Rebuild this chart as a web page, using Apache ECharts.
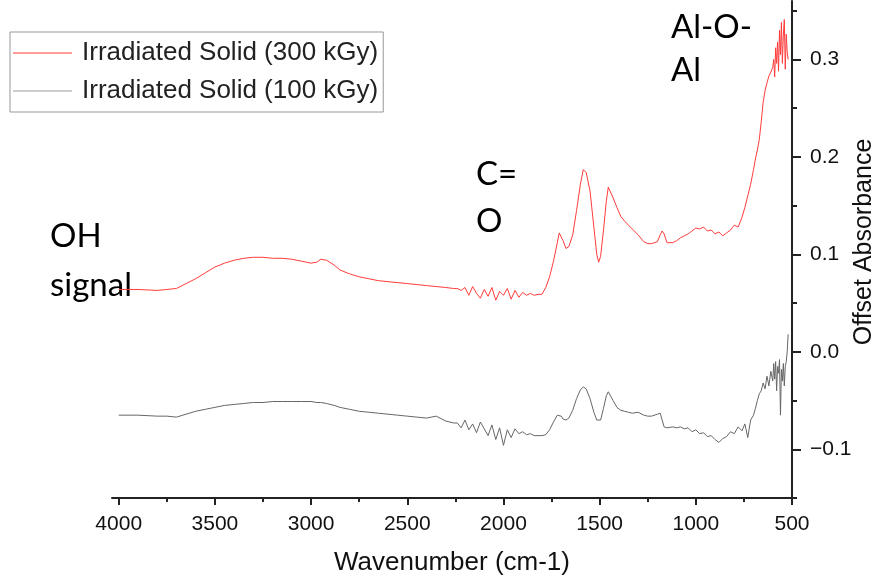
<!DOCTYPE html>
<html>
<head>
<meta charset="utf-8">
<script src="https://cdn.jsdelivr.net/npm/echarts@6/dist/echarts.min.js"></script>
<style>
  html, body { margin: 0; padding: 0; background: #fff; }
  #main { width: 885px; height: 584px; }
</style>
</head>
<body>
<div id="main"></div>
<script>
// wavenumber (cm-1), shared by both spectra
const wavenumber = [
  4000, 3900, 3800, 3750, 3700, 3650, 3600, 3550, 3500, 3450, 3400, 3350, 3300, 3250, 3200, 3150, 3100, 3050,
  3000, 2970, 2950, 2920, 2880, 2850, 2800, 2750, 2700, 2650, 2600, 2550, 2500, 2450, 2400, 2350, 2300, 2260,
  2240, 2220, 2200, 2180, 2160, 2140, 2120, 2100, 2080, 2060, 2040, 2020, 2000, 1980, 1960, 1940, 1920, 1900,
  1880, 1860, 1840, 1820,
  1800, 1780, 1760, 1740, 1720, 1710, 1700, 1690, 1675, 1660, 1640, 1620, 1600, 1585, 1570, 1550, 1530, 1515,
  1505, 1495, 1480, 1465, 1455, 1445, 1430, 1410, 1390, 1370, 1350, 1330, 1300, 1270, 1250, 1230, 1200, 1185,
  1175, 1165, 1150, 1140, 1120, 1100,
  1080, 1060, 1040, 1020, 1000, 980, 960, 940, 920, 900, 880, 860, 840, 820, 800, 780, 760, 745, 730, 715, 700,
  690, 680, 670, 660, 650, 640, 630, 620, 610,
  600, 595, 590, 585, 580, 575, 570, 565, 560, 555, 550, 545, 540, 535, 530, 525, 520
];

// Irradiated Solid (300 kGy)
const solid300 = [
  0.064, 0.064, 0.063, 0.064, 0.065, 0.070, 0.075, 0.081, 0.087, 0.091, 0.094, 0.096, 0.097, 0.097, 0.096, 0.096, 0.095, 0.093,
  0.091, 0.092, 0.095, 0.094, 0.089, 0.084, 0.080, 0.077, 0.075, 0.073, 0.072, 0.071, 0.070, 0.069, 0.068, 0.067, 0.066, 0.065,
  0.065, 0.063, 0.066, 0.058, 0.067, 0.060, 0.055, 0.064, 0.057, 0.066, 0.053, 0.062, 0.058, 0.065, 0.054, 0.063, 0.056, 0.061,
  0.058, 0.060, 0.058, 0.059,
  0.059, 0.066, 0.077, 0.093, 0.112, 0.122, 0.121, 0.114, 0.106, 0.108, 0.120, 0.145, 0.172, 0.187, 0.184, 0.165, 0.128, 0.100,
  0.092, 0.098, 0.125, 0.155, 0.169, 0.167, 0.158, 0.148, 0.139, 0.134, 0.130, 0.126, 0.120, 0.113, 0.111, 0.111, 0.113, 0.120,
  0.124, 0.121, 0.112, 0.110, 0.112, 0.114,
  0.117, 0.119, 0.121, 0.124, 0.127, 0.126, 0.128, 0.124, 0.125, 0.121, 0.123, 0.119, 0.122, 0.125, 0.130, 0.128, 0.138, 0.148, 0.160, 0.172, 0.187,
  0.198, 0.207, 0.218, 0.236, 0.256, 0.268, 0.276, 0.283, 0.287,
  0.292, 0.300, 0.282, 0.312, 0.296, 0.318, 0.288, 0.330, 0.305, 0.338, 0.296, 0.325, 0.341, 0.290, 0.326, 0.308, 0.300
];

// Irradiated Solid (100 kGy)
const solid100 = [
  -0.065, -0.065, -0.066, -0.066, -0.067, -0.064, -0.061, -0.059, -0.057, -0.055, -0.054, -0.053, -0.052, -0.052, -0.051, -0.051, -0.051, -0.051,
  -0.051, -0.052, -0.052, -0.053, -0.055, -0.057, -0.059, -0.061, -0.062, -0.063, -0.064, -0.065, -0.066, -0.067, -0.068, -0.066, -0.071, -0.073,
  -0.073, -0.078, -0.070, -0.080, -0.074, -0.083, -0.072, -0.079, -0.086, -0.075, -0.090, -0.078, -0.096, -0.080, -0.088, -0.079, -0.084, -0.082,
  -0.085, -0.084, -0.086, -0.086,
  -0.086, -0.085, -0.080, -0.072, -0.065, -0.064, -0.066, -0.069, -0.070, -0.068, -0.060, -0.048, -0.039, -0.036, -0.038, -0.048, -0.062, -0.070,
  -0.072, -0.070, -0.058, -0.045, -0.041, -0.043, -0.050, -0.057, -0.060, -0.061, -0.062, -0.063, -0.062, -0.065, -0.066, -0.066, -0.064, -0.063,
  -0.070, -0.077, -0.078, -0.079, -0.077, -0.078,
  -0.077, -0.079, -0.078, -0.082, -0.080, -0.084, -0.083, -0.087, -0.086, -0.090, -0.093, -0.089, -0.087, -0.082, -0.084, -0.077, -0.081, -0.074, -0.088, -0.070, -0.065,
  -0.058, -0.050, -0.043, -0.040, -0.032, -0.038, -0.025, -0.035, -0.020,
  -0.030, -0.012, -0.028, -0.010, -0.040, -0.015, -0.022, -0.008, -0.065, -0.018, -0.030, -0.012, -0.035, -0.015, -0.010, 0.000, 0.018
];

const xMajor = [500, 1000, 1500, 2000, 2500, 3000, 3500, 4000];
const xMinor = [750, 1250, 1750, 2250, 2750, 3250, 3750];
const yMajor = [-0.1, 0, 0.1, 0.2, 0.3];
const yMinor = [-0.15, -0.05, 0.05, 0.15, 0.25, 0.35];

const seriesNames = ['Irradiated Solid (300 kGy)', 'Irradiated Solid (100 kGy)'];

let pairs = (ys) => wavenumber.map((w, i) => [w, ys[i]]);

const axisFont = 'Liberation Sans';
const noteFont = 'Lato';

let note = (text, x, y) => ({
  type: 'text', x: x, y: y,
  style: { text: text, fontFamily: noteFont, fontSize: 33, fill: '#000', verticalAlign: 'middle' }
});

let myChart = echarts.init(document.getElementById('main'), null, { renderer: 'canvas' });
myChart.setOption({
  animation: false,
  grid: { left: 112, right: 93, top: 1, bottom: 86, outerBoundsMode: 'none', containLabel: false },
  legend: {
    orient: 'vertical',
    left: 10,
    top: 32,
    padding: [6, 5, 6, 3],
    itemGap: 8,
    itemWidth: 59,
    itemHeight: 1.5,
    borderColor: '#999',
    borderWidth: 1,
    textStyle: { fontFamily: axisFont, fontSize: 26, lineHeight: 30, color: '#222', padding: [0, 0, 0, 5] },
    data: [
      { name: seriesNames[0], icon: 'rect', itemStyle: { color: '#ff7a7a' } },
      { name: seriesNames[1], icon: 'rect', itemStyle: { color: '#bdbdbd' } }
    ]
  },
  xAxis: [
    {
      type: 'value', inverse: true, min: 500, max: 4035, position: 'bottom',
      name: 'Wavenumber (cm-1)', nameLocation: 'middle', nameGap: 52,
      nameTextStyle: { fontFamily: axisFont, fontSize: 26, color: '#111' },
      axisLine: { show: true, onZero: false, lineStyle: { color: '#222', width: 2 } },
      axisTick: { show: true, customValues: xMajor, length: 7, lineStyle: { color: '#222', width: 2 } },
      axisLabel: { customValues: xMajor, margin: 16, fontFamily: axisFont, fontSize: 21, color: '#111', formatter: (v) => String(v) },
      splitLine: { show: false }
    },
    {
      type: 'value', inverse: true, min: 500, max: 4035, position: 'bottom',
      axisLine: { show: false, onZero: false },
      axisTick: { show: true, customValues: xMinor, length: 4, lineStyle: { color: '#222', width: 2 } },
      axisLabel: { show: false },
      splitLine: { show: false }
    }
  ],
  yAxis: [
    {
      type: 'value', position: 'right', min: -0.15, max: 0.36,
      axisLine: { show: true, onZero: false, lineStyle: { color: '#222', width: 2 } },
      axisTick: { show: true, customValues: yMajor, length: 9, lineStyle: { color: '#222', width: 2 } },
      axisLabel: {
        customValues: yMajor, margin: 18, fontFamily: axisFont, fontSize: 21, color: '#111',
        formatter: (v) => (v < 0 ? '\u2212' + Math.abs(v).toFixed(1) : v.toFixed(1))
      },
      splitLine: { show: false }
    },
    {
      type: 'value', position: 'right', min: -0.15, max: 0.36,
      axisLine: { show: false, onZero: false },
      axisTick: { show: true, customValues: yMinor, length: 5, lineStyle: { color: '#222', width: 2 } },
      axisLabel: { show: false },
      splitLine: { show: false }
    }
  ],
  graphic: [
    note('OH', 50, 236),
    note('signal', 50, 285),
    note('C=', 476, 174),
    note('O', 476, 221),
    note('Al-O-', 671, 27),
    note('Al', 671, 70),
    {
      type: 'text', x: 864, y: 242, rotation: Math.PI / 2,
      style: { text: 'Offset Absorbance', fontFamily: axisFont, fontSize: 25, fill: '#111', align: 'center', verticalAlign: 'middle' }
    }
  ],
  series: [
    {
      name: seriesNames[0], type: 'line', xAxisIndex: 0, yAxisIndex: 0,
      showSymbol: false, symbol: 'none',
      lineStyle: { color: '#ff3b3b', width: 1 },
      itemStyle: { color: '#ff3b3b' },
      data: pairs(solid300)
    },
    {
      name: seriesNames[1], type: 'line', xAxisIndex: 0, yAxisIndex: 0,
      showSymbol: false, symbol: 'none',
      lineStyle: { color: '#666666', width: 1 },
      itemStyle: { color: '#666666' },
      data: pairs(solid100)
    }
  ]
});
</script>
</body>
</html>
